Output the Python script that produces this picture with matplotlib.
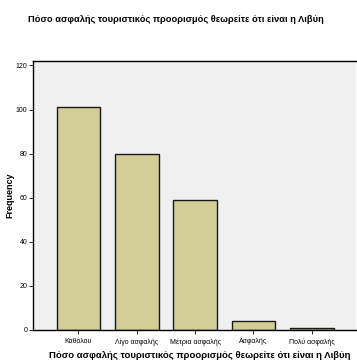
import matplotlib
matplotlib.use("Agg")
import matplotlib.pyplot as plt

categories = ["Καθόλου", "Λίγο ασφαλής", "Μέτρια ασφαλής", "Ασφαλής", "Πολύ ασφαλής"]
frequency = [101, 80, 59, 4, 1]
yticks = [0, 20, 40, 60, 80, 100, 120]
title = "Πόσο ασφαλής τουριστικός προορισμός θεωρείτε ότι είναι η Λιβύη"

plt.rcParams['font.family'] = ['Liberation Sans', 'DejaVu Sans']

fig = plt.figure(figsize=(3.57, 3.64), dpi=100)
ax = fig.add_axes([33/357, 1-330/364, 323/357, 269/364])
ax.set_facecolor("#F0F0F0")
x = range(len(categories))
ax.bar(x, frequency, width=0.75, color="#D3CE97", edgecolor="#1a1a1a", linewidth=1.0)
ax.set_xlim(-0.78, 4.76)
ax.set_ylim(0, 122)
ax.set_yticks(yticks)
ax.set_xticks(list(x))
ax.set_xticklabels(categories, fontsize=5)
ax.tick_params(axis='y', labelsize=5, length=3, width=0.6, pad=1)
ax.tick_params(axis='x', length=3, width=0.6, pad=3)
for s in ['top', 'left', 'bottom']:
    ax.spines[s].set_linewidth(1.0)
ax.spines['right'].set_visible(False)
ax.set_ylabel("Frequency", fontsize=6.5, fontweight='bold', labelpad=1)
fig.text(200/357, 1-355/364, title, ha='center', va='center', fontsize=6.8, fontweight='bold')
fig.text(176/357, 1-19/364, title, ha='center', va='center', fontsize=6.7, fontweight='bold')
fig.savefig("out.png", dpi=100, facecolor="white")
